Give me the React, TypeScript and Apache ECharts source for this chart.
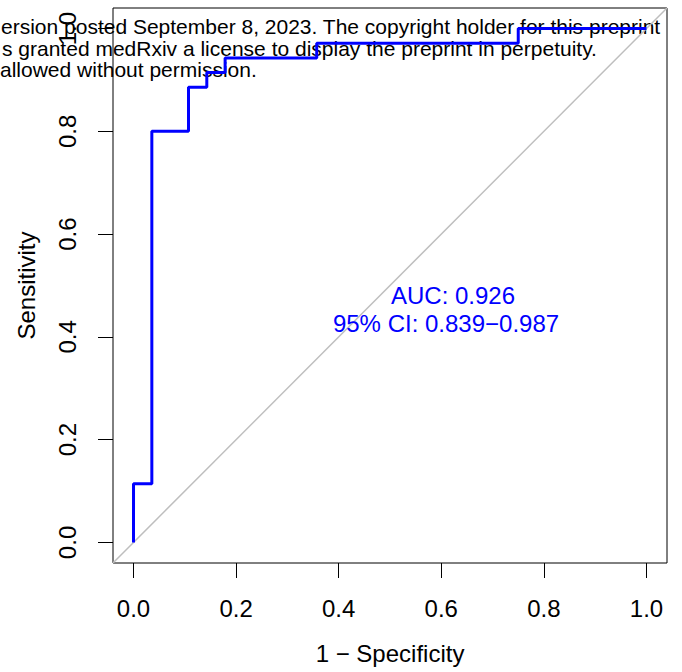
import React, { useEffect, useRef } from "react";
import * as echarts from "echarts";

const fpr = [0, 0, 1 / 28, 1 / 28, 3 / 28, 3 / 28, 4 / 28, 4 / 28, 5 / 28, 5 / 28, 10 / 28, 10 / 28, 21 / 28, 21 / 28, 1];
const tpr = [0, 4 / 35, 4 / 35, 28 / 35, 28 / 35, 31 / 35, 31 / 35, 32 / 35, 32 / 35, 33 / 35, 33 / 35, 34 / 35, 34 / 35, 1, 1];
const ticks = [0, 0.2, 0.4, 0.6, 0.8, 1.0];
const tickLabels = ["0.0", "0.2", "0.4", "0.6", "0.8", "1.0"];
const aucText = ["AUC: 0.926", "95% CI: 0.839\u22120.987"];
const watermark = [
  "ersion posted September 8, 2023. The copyright holder for this preprint",
  "s granted medRxiv a license to display the preprint in perpetuity.",
  "allowed without permission.",
];

const FONT = "'Liberation Sans', Arial, Helvetica, sans-serif";

export default function App() {
  const ref = useRef<HTMLDivElement>(null);
  useEffect(() => {
    const chart = echarts.init(ref.current!, undefined, { renderer: "svg" });
    const fmt = (v: number) => {
      const i = ticks.findIndex((t) => Math.abs(t - v) < 1e-6);
      return i >= 0 ? tickLabels[i] : "";
    };
    const wmLeft = [1, 2, 0];
    chart.setOption({
      animation: false,
      backgroundColor: "#fff",
      textStyle: { fontFamily: FONT },
      grid: {
        left: 113,
        top: 8,
        width: 554,
        height: 555,
        show: true,
        borderColor: "#000",
        borderWidth: 1,
        backgroundColor: "transparent",
      },
      xAxis: {
        type: "value",
        min: -0.04,
        max: 1.04,
        splitLine: { show: false },
        axisLine: { show: false, onZero: false },
        axisTick: { show: true, length: 15, lineStyle: { color: "#000", width: 1 }, customValues: ticks },
        axisLabel: { customValues: ticks, formatter: fmt, fontSize: 24, color: "#000", margin: 33, fontFamily: FONT },
        name: "1 \u2212 Specificity",
        nameLocation: "middle",
        nameGap: 78,
        nameTextStyle: { fontSize: 24, color: "#000", fontFamily: FONT },
      },
      yAxis: {
        type: "value",
        min: -0.04,
        max: 1.04,
        splitLine: { show: false },
        axisLine: { show: false, onZero: false },
        axisTick: { show: true, length: 15, lineStyle: { color: "#000", width: 1 }, customValues: ticks },
        axisLabel: { customValues: ticks, formatter: fmt, fontSize: 24, color: "#000", margin: 34, rotate: 90, fontFamily: FONT },
        name: "Sensitivity",
        nameLocation: "middle",
        nameGap: 75,
        nameTextStyle: { fontSize: 24, color: "#000", fontFamily: FONT },
      },
      graphic: [
        ...watermark.map((t, i) => ({
          type: "text",
          x: wmLeft[i],
          y: 16 + i * 21.5,
          z: 0,
          style: { text: t, fontSize: 21, fill: "#000", fontFamily: FONT },
        })),
        {
          type: "text",
          x: 453,
          y: 295,
          z: 10,
          style: { text: aucText[0], fontSize: 24, fill: "#0000ff", align: "center", verticalAlign: "middle", fontFamily: FONT },
        },
        {
          type: "text",
          x: 446,
          y: 323,
          z: 10,
          style: { text: aucText[1], fontSize: 24, fill: "#0000ff", align: "center", verticalAlign: "middle", fontFamily: FONT },
        },
      ],
      series: [
        {
          type: "line",
          data: [[-0.04, -0.04], [1.04, 1.04]],
          symbol: "none",
          lineStyle: { color: "#bebebe", width: 1.5 },
          silent: true,
          z: 3,
        },
        {
          type: "line",
          data: fpr.map((x, i) => [x, tpr[i]]),
          symbol: "none",
          lineStyle: { color: "#0000ff", width: 3 },
          silent: true,
          z: 4,
        },
      ],
    });
    return () => chart.dispose();
  }, []);
  return <div ref={ref} style={{ width: 682, height: 672, position: "absolute", left: 0, top: 0 }} />;
}
